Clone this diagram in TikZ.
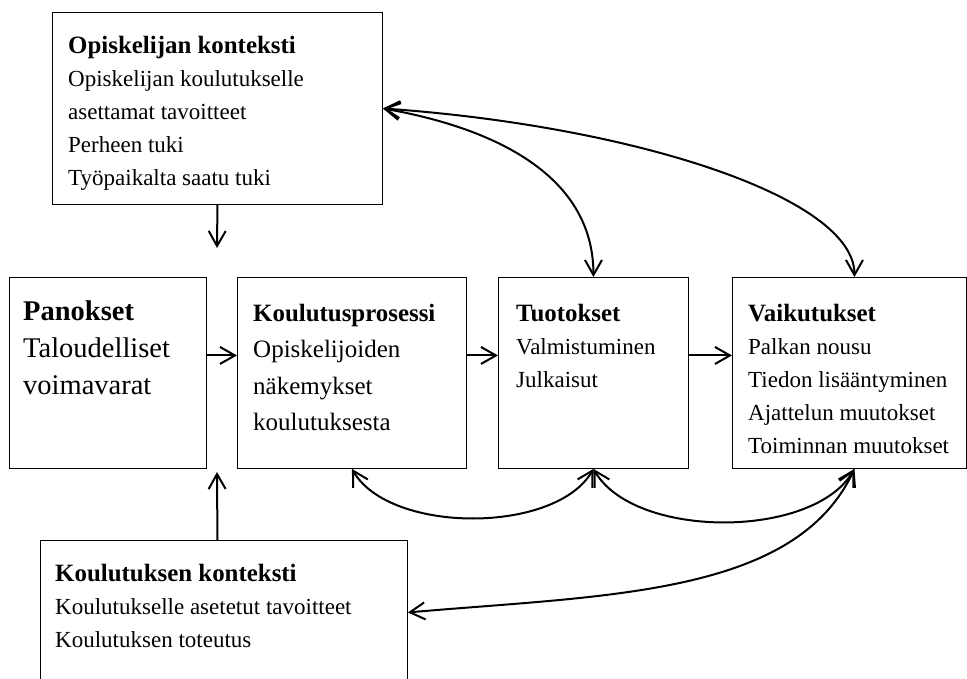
\documentclass[tikz,border=0pt]{standalone}
\usepackage{fontspec}
\setmainfont{Liberation Serif}
\usetikzlibrary{arrows.meta,positioning}

\newcommand{\bodyfont}{\fontsize{23}{33}\selectfont}
\newcommand{\bigbodyfont}{\fontsize{25}{36.5}\selectfont}
\newcommand{\panosfont}{\fontsize{28.5}{37}\selectfont}
\newcommand{\titlefont}{\fontsize{24.9}{33}\selectfont\bfseries}

\tikzset{
  box/.style={draw, rectangle, line width=0.9pt, anchor=north west, inner sep=0pt},
  boxtext/.style={anchor=north west, align=left, inner sep=0pt, font=\bodyfont},
  conn/.style={line width=2pt, -{Straight Barb[length=15pt,width=17pt]}},
  twoway/.style={line width=2pt, {Straight Barb[length=15pt,width=17pt]}-{Straight Barb[length=15pt,width=17pt]}},
}

\begin{document}
\begin{tikzpicture}[x=1pt,y=1pt]
    \useasboundingbox (0,0) rectangle (967,-678);
    % laatikot
    \node[box, minimum width=330pt, minimum height=192pt] (opisk) at (52,-12) {};
    \node[box, minimum width=197pt, minimum height=191pt] (panos) at (9,-277) {};
    \node[box, minimum width=229pt, minimum height=191pt] (prosessi) at (237,-277) {};
    \node[box, minimum width=190pt, minimum height=191pt] (tuot) at (498,-277) {};
    \node[box, minimum width=234pt, minimum height=191pt] (vaik) at (732,-277) {};
    \node[box, minimum width=367pt, minimum height=144pt] (kkont) at (40,-540) {};
    % tekstit
    \node[boxtext] (opisktxt) at ([shift={(16,-24)}]opisk.north west)
        {{\titlefont Opiskelijan konteksti}\\Opiskelijan koulutukselle\\asettamat tavoitteet\\Perheen tuki\\Työpaikalta saatu tuki};
    \node[boxtext, font=\panosfont] (panostxt) at ([shift={(14,-24)}]panos.north west)
        {{\panosfont\bfseries Panokset}\\Taloudelliset\\voimavarat};
    \node[boxtext, font=\bigbodyfont] (prosessitxt) at ([shift={(16,-27)}]prosessi.north west)
        {{\titlefont Koulutusprosessi}\\Opiskelijoiden\\näkemykset\\koulutuksesta};
    \node[boxtext] (tuottxt) at ([shift={(18,-27)}]tuot.north west)
        {{\titlefont Tuotokset}\\Valmistuminen\\Julkaisut};
    \node[boxtext] (vaiktxt) at ([shift={(16,-27)}]vaik.north west)
        {{\titlefont Vaikutukset}\\Palkan nousu\\Tiedon lisääntyminen\\Ajattelun muutokset\\Toiminnan muutokset};
    \node[boxtext] (kkonttxt) at ([shift={(15,-24)}]kkont.north west)
        {{\titlefont Koulutuksen konteksti}\\Koulutukselle asetetut tavoitteet\\Koulutuksen toteutus};
    % suorat nuolet
    \coordinate (opiskend) at (217,-248);
    \coordinate (kkontend) at (217,-472);
    \draw[conn] (opisk.south) -- (opiskend);
    \draw[conn] ([xshift=-6.5pt]kkont.north) -- (kkontend);
    \draw[conn] ([yshift=17.5pt]panos.east) -- ([yshift=17.5pt]prosessi.west);
    \draw[conn] ([yshift=17.5pt]prosessi.east) -- ([yshift=17.5pt]tuot.west);
    \draw[conn] ([yshift=17.5pt]tuot.east) -- ([yshift=17.5pt]vaik.west);
    % kaaret
    \draw[twoway] (opisk.east) to[out=-10,in=90] (tuot.north);
    \draw[twoway] (opisk.east) to[out=-4,in=90,out distance=250pt,in distance=80pt] ([xshift=5pt]vaik.north);
    \draw[twoway] (prosessi.south) to[out=-60,in=-120,looseness=0.8] (tuot.south);
    \draw[twoway] (tuot.south) to[out=-60,in=-120,looseness=0.8] ([xshift=5pt]vaik.south);
    \draw[twoway] ([xshift=5pt]vaik.south) to[out=-115,in=5,out distance=140pt,in distance=200pt] (kkont.east);
\end{tikzpicture}
\end{document}
